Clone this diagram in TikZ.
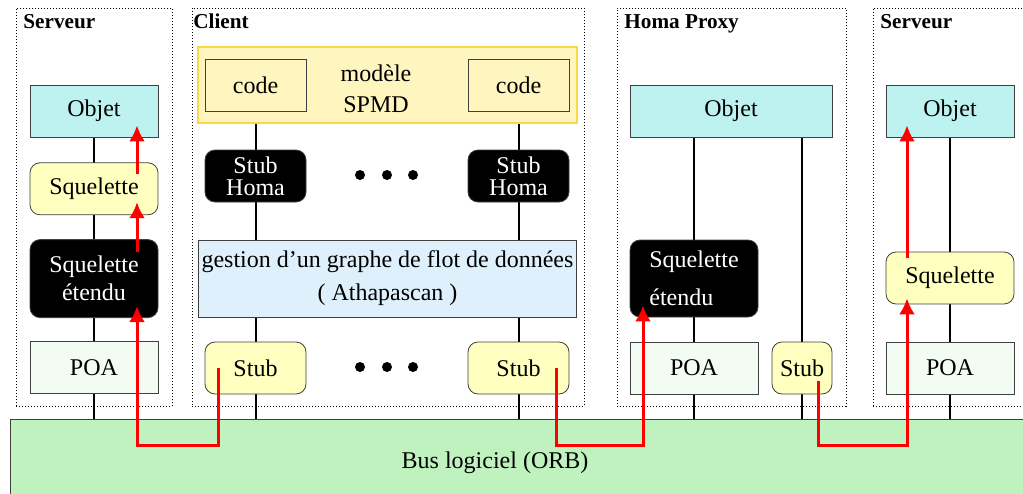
\documentclass[tikz,border=0pt]{standalone}
\usepackage{fontspec}
\setmainfont{Liberation Serif}
\usetikzlibrary{positioning,calc,arrows.meta,backgrounds}

\definecolor{objcol}{RGB}{190,242,240}
\definecolor{squelcol}{RGB}{255,255,192}
\definecolor{poacol}{RGB}{242,252,242}
\definecolor{buscol}{RGB}{192,242,192}
\definecolor{spmdcol}{RGB}{255,245,190}
\definecolor{spmdline}{RGB}{250,216,70}
\definecolor{gestcol}{RGB}{221,240,252}

\begin{document}
\begin{tikzpicture}[x=0.5pt,y=-0.5pt,
   every node/.style={font=\fontsize{12}{14}\selectfont},
   box/.style={draw=black!75, inner sep=0pt, minimum width=64pt, minimum height=26pt},
   objet/.style={box, fill=objcol},
   squel/.style={box, rounded corners=5pt, fill=squelcol},
   ext/.style={box, rounded corners=5pt, fill=black, text=white},
   poa/.style={box, fill=poacol},
   code/.style={box, fill=spmdcol, minimum width=50.5pt},
   frame/.style={draw, dash pattern=on .5pt off 1pt, anchor=north west, inner sep=0pt, minimum height=199pt},
   title/.style={font=\bfseries\fontsize{10.6}{12}\selectfont, anchor=base west, inner sep=0pt},
   link/.style={line width=1pt},
   call/.style={red, line width=1.5pt, -{Latex[length=8pt,width=8pt]}}]

\clip (0,0) rectangle (1023,493);

% Cadres
\node[frame, minimum width=78pt] (srvA) at (16,8) {};
\node[frame, minimum width=196pt] (cli) at (192,8) {};
\node[frame, minimum width=114.5pt] (prx) at (617,8) {};
\node[frame, minimum width=90pt] (srvB) at (873,8) {};
\node[title] (srvAtitle) at ([shift={(3.5pt,-10pt)}]srvA.north west) {Serveur};
\node[title] (clititle) at ([shift={(0.5pt,-10pt)}]cli.north west) {Client};
\node[title] (prxtitle) at ([shift={(3.5pt,-10pt)}]prx.north west) {Homa Proxy};
\node[title] (srvBtitle) at ([shift={(3.5pt,-10pt)}]srvB.north west) {Serveur};

% Serveur (gauche)
\node[objet] (objA) at (94,111) {Objet};
\node[squel, below = 12.5pt of objA] (sqA) {Squelette};
\node[
   ext,
   minimum height = 39pt,
   align = center,
   font = \fontsize{12}{14}\selectfont,
   below = 12pt of sqA
] (extA) {Squelette\\étendu};
\node[poa, below = 11.5pt of extA] (poaA) {POA};

% Client
\node[draw=spmdline, fill=spmdcol, line width=.8pt, minimum width=189.5pt, minimum height=38pt] (spmd) at (387.5,85) {};
\node[code] (codeA) at (255.5,85) {code};
\node[code] (codeB) at (518.5,85) {code};
\node[align=center, font=\fontsize{12}{15.5}\selectfont] (spmdlbl) at (376,89) {modèle\\SPMD};
\node[ext, minimum width=50.5pt, align=center, font=\fontsize{12}{11}\selectfont] (hstubA) at (255.5,176) {Stub\\Homa};
\node[ext, minimum width=50.5pt, align=center, font=\fontsize{12}{11}\selectfont] (hstubB) at (518.5,176) {Stub\\Homa};
\node[
   box,
   fill = gestcol,
   minimum width = 189pt,
   minimum height = 38.5pt,
   align = center,
   font = \fontsize{12}{16.5}\selectfont
] (gest) at (387.5,278.5) {gestion d'un graphe de flot de données\\( Athapascan )};
\node[squel, minimum width=50.5pt] (stubA) at (255.5,368) {Stub};
\node[squel, minimum width=50.5pt] (stubB) at (518.5,368) {Stub};
\foreach \x in {360,387,413} {
   \fill (\x,175) circle (2.5pt);
   \fill (\x,367) circle (2.5pt);
}

% Homa Proxy
\node[objet, minimum width=101pt] (objP) at (731,111) {Objet};
\node[ext, minimum height=38.5pt, align=left, font=\fontsize{12}{19}\selectfont] (extP) at (694,278.5) {Squelette\\étendu};
\node[poa] (poaP) at (694,368) {POA};
\node[squel, minimum width=30pt] (stubP) at (802,368) {Stub};

% Serveur (droite)
\node[objet] (objB) at (950,111) {Objet};
\node[squel] (sqB) at (950,278) {Squelette};
\node[poa] (poaB) at (950,368) {POA};

% Bus
\node[draw=black!75, fill=buscol, anchor=north west, inner sep=0pt, minimum width=520pt, minimum height=42pt] (bus) at (10,419) {};
\node (buslbl) at (495,463) {Bus logiciel (ORB)};

% Liaisons
\begin{scope}[on background layer]
\draw[link] (objA) -- (objA |- bus.north);
\draw[link] (codeA) -- (codeA |- bus.north);
\draw[link] (codeB) -- (codeB |- bus.north);
\draw[link] (objP.south -| extP) -- (extP |- bus.north);
\draw[link] (objP.south -| stubP) -- (stubP |- bus.north);
\draw[link] (objB) -- (objB |- bus.north);
\end{scope}

% Appels
\draw[call] ([xshift=21.5pt,yshift=-6pt]sqA.north) -- ([xshift=21.5pt,yshift=6pt]objA.south);
\draw[call] ([xshift=21.5pt,yshift=-6.5pt]extA.north) -- ([xshift=21.5pt,yshift=6.5pt]sqA.south);
\draw[call] ([xshift=-18.75pt]stubA.center) -- ++(0,77) -| ([xshift=21.5pt,yshift=6pt]extA.south);
\draw[call] ([xshift=18.75pt]stubB.center) -- ++(0,77) -| ([xshift=-25.5pt,yshift=6pt]extP.south);
\draw[call] ([xshift=8pt,yshift=-6.5pt]stubP.center) -- ++(0,64) -| ([xshift=-21.5pt,yshift=3pt]sqB.south);
\draw[call] ([xshift=-21.5pt,yshift=-3pt]sqB.north) -- ([xshift=-21.5pt,yshift=6pt]objB.south);

\end{tikzpicture}
\end{document}
